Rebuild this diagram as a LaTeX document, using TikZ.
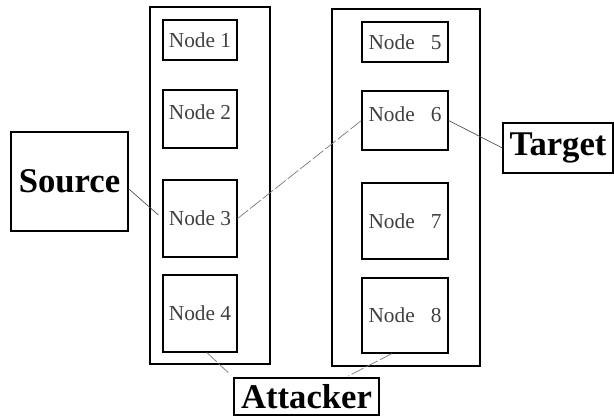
\documentclass[tikz,border=0pt]{standalone}
\usepackage{fontspec}
\setmainfont{Liberation Serif}
\usetikzlibrary{positioning}

\tikzset{
  colbox/.style={draw,line width=0.9pt,minimum height=267.75pt,inner sep=0pt},
  nodebox/.style={draw,line width=0.9pt,inner sep=0pt,text=black!75,
    font=\fontsize{16}{18}\selectfont},
  raised/.style={text depth=10pt},
  endbox/.style={draw,line width=0.9pt,inner sep=0pt,
    font=\fontsize{26}{28}\selectfont\bfseries},
  link/.style={line width=0.5pt,black!70},
  faint/.style={line width=0.5pt,black!55,dash pattern=on 10pt off 2pt}
}

\begin{document}
\begin{tikzpicture}[x=0.75pt,y=-0.75pt]
  \useasboundingbox (0,0) rectangle (614,416);
  % the two columns
  \node[colbox,minimum width=90pt] (colA) at (210,185.5) {};
  \node[colbox,minimum width=111pt] (colB) at (406,187.5) {};
  % left column
  \node[nodebox,minimum width=55.5pt,minimum height=30pt] (n1) at (200,40) {Node 1};
  \node[nodebox,raised,minimum width=55.5pt,minimum height=43.5pt] (n2) at (200,119) {Node 2};
  \node[nodebox,minimum width=55.5pt,minimum height=57.75pt] (n3) at (200,218.5) {Node 3};
  \node[nodebox,minimum width=55.5pt,minimum height=57.75pt] (n4) at (200,313.5) {Node 4};
  % right column
  \node[nodebox,minimum width=64.5pt,minimum height=30pt] (n5) at (405,42) {Node\hspace{12pt}5};
  \node[nodebox,raised,minimum width=64.5pt,minimum height=44.25pt] (n6) at (405,120.5) {Node\hspace{12pt}6};
  \node[nodebox,minimum width=64.5pt,minimum height=57pt] (n7) at (405,221) {Node\hspace{12pt}7};
  \node[nodebox,minimum width=64.5pt,minimum height=56.25pt] (n8) at (405,315.5) {Node\hspace{12pt}8};
  % end points
  \node[endbox,minimum width=87.75pt,minimum height=74.25pt] (src) at (69.5,181.5) {Source};
  \node[endbox,minimum width=82.5pt,minimum height=37.5pt] (tgt) at (558,148) {Target};
  \node[endbox,minimum width=108.75pt,minimum height=27.75pt] (att) at (306.5,396.5) {Attacker};
  % route
  \draw[link,shorten >=4pt] (src.-7) -- (n3.west);
  \draw[faint] (n3.east) -- (n6.west);
  \draw[link] (n6.east) -- (tgt.west);
  \draw[faint,shorten >=4pt] (n4.-80) -- (att.north west);
  \draw[faint,shorten >=2pt] (n8.-109) -- (att.26);
\end{tikzpicture}
\end{document}
